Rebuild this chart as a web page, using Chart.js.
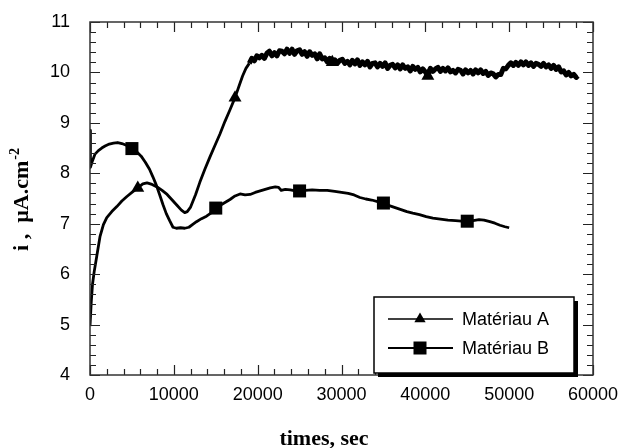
<!DOCTYPE html>
<html>
<head>
<meta charset="utf-8">
<script src="https://cdn.jsdelivr.net/npm/chart.js@4.4.1/dist/chart.umd.min.js"></script>
<style>
  html, body { margin: 0; padding: 0; background: #fff; }
  #wrap { width: 618px; height: 448px; }
</style>
</head>
<body>
<div id="wrap"><canvas id="chart" width="618" height="448"></canvas></div>
<script>
// current density vs time, two materials
const labelA = 'Matériau A';
const labelB = 'Matériau B';

const timeA = [
  0, 150, 300, 500, 800, 1200, 1600, 2000, 2600, 3200,
  3800, 4400, 5000, 5700, 6300, 6800, 7400, 8000, 8600, 9200,
  9800, 10400, 10900, 11300, 11600, 12000, 12600, 13100, 13700, 14300,
  14900, 15500, 16100, 16700, 17300, 17800, 18200, 18600, 19000,
  19300, 19600, 19900, 20200, 20500, 20800, 21100, 21400, 21700, 22000,
  22300, 22600, 22900, 23200, 23500, 23800, 24100, 24400, 24700, 25000,
  25300, 25600, 25900, 26200, 26500, 26800, 27100, 27400, 27700, 28000,
  28300, 28600, 28900, 29200, 29500, 29800, 30100, 30400, 30700, 31000,
  31300, 31600, 31900, 32200, 32500, 32800, 33100, 33400, 33700, 34000,
  34300, 34600, 34900, 35200, 35500, 35800, 36100, 36400, 36700, 37000,
  37300, 37600, 37900, 38200, 38500, 38800, 39100, 39400, 39700, 40000,
  40300, 40600, 40900, 41200, 41500, 41800, 42100, 42400, 42700, 43000,
  43300, 43600, 43900, 44200, 44500, 44800, 45100, 45400, 45700, 46000,
  46300, 46600, 46900, 47200, 47500, 47800, 48100, 48400, 48700, 49000,
  49300, 49600, 49900, 50200, 50500, 50800, 51100, 51400, 51700, 52000,
  52300, 52600, 52900, 53200, 53500, 53800, 54100, 54400, 54700, 55000,
  55300, 55600, 55900, 56200, 56500, 56800, 57100, 57400, 57700, 58000,
  58200
];
const currentA = [
  4.97, 5.45, 5.8, 6.05, 6.35, 6.75, 6.98, 7.12, 7.24, 7.34,
  7.45, 7.54, 7.62, 7.71, 7.79, 7.81, 7.78, 7.73, 7.66, 7.58,
  7.47, 7.36, 7.27, 7.22, 7.24, 7.33, 7.58, 7.82, 8.08, 8.32,
  8.55, 8.78, 9.03, 9.26, 9.5, 9.74, 9.93, 10.08, 10.18,
  10.28, 10.23, 10.33, 10.29, 10.34, 10.28, 10.38, 10.42, 10.33, 10.39,
  10.33, 10.43, 10.42, 10.37, 10.46, 10.38, 10.46, 10.36, 10.43, 10.45,
  10.36, 10.41, 10.32, 10.41, 10.34, 10.37, 10.27, 10.37, 10.27, 10.29,
  10.21, 10.28, 10.20, 10.25, 10.18, 10.24, 10.26, 10.18, 10.22, 10.15,
  10.24, 10.17, 10.25, 10.14, 10.21, 10.15, 10.22, 10.11, 10.18, 10.19,
  10.11, 10.18, 10.12, 10.19, 10.08, 10.14, 10.16, 10.09, 10.15, 10.07,
  10.15, 10.08, 10.11, 10.03, 10.12, 10.06, 10.10, 10.01, 10.07, 10.01,
  9.93, 10.08, 10.02, 10.07, 10.10, 10.02, 10.08, 10.03, 10.09, 10.01,
  10.04, 9.99, 10.06, 10.04, 9.97, 10.05, 9.99, 10.04, 9.97, 10.05,
  9.99, 10.05, 9.98, 10.02, 9.94, 9.99, 9.97, 9.91, 9.96, 9.96,
  10.08, 10.07, 10.14, 10.19, 10.14, 10.20, 10.14, 10.21, 10.15, 10.21,
  10.14, 10.19, 10.12, 10.18, 10.16, 10.12, 10.18, 10.11, 10.15, 10.08,
  10.14, 10.06, 10.11, 10.01, 10.03, 9.95, 10.00, 9.93, 9.96, 9.90,
  9.93
];

const timeB = [
  0, 50, 300, 600, 1000, 1400, 1800, 2300, 2800, 3300,
  3800, 4400, 5000, 5600, 6100, 6600, 7100, 7500, 7900, 8300,
  8700, 9100, 9500, 9900, 10300, 10800, 11300, 11800, 12300, 12700,
  13300, 13900, 14500, 15000, 15500, 16100, 16700, 17300, 17900, 18500,
  19100, 19700, 20300, 20900, 21500, 22100, 22500, 22800, 23300, 23900,
  24500, 25000, 25700, 26500, 27400, 28300, 29200, 30000, 30800, 31500,
  32200, 32900, 33600, 34300, 35000, 35700, 36400, 37100, 37800, 38500,
  39300, 40100, 40900, 41800, 42700, 43600, 44300, 45000, 45700, 46400,
  47000, 47700, 48300, 48900, 49500, 50000
];
const currentB = [
  8.85, 8.12, 8.25, 8.38, 8.45, 8.5, 8.54, 8.58, 8.6, 8.61,
  8.59, 8.55, 8.49, 8.42, 8.34, 8.22, 8.08, 7.93, 7.77, 7.58,
  7.38, 7.2, 7.06, 6.93, 6.91, 6.92, 6.91, 6.93, 6.99, 7.04,
  7.1, 7.15, 7.22, 7.31, 7.36, 7.42, 7.48, 7.55, 7.59, 7.57,
  7.58, 7.62, 7.65, 7.68, 7.71, 7.73, 7.72, 7.66, 7.68, 7.67,
  7.65, 7.65, 7.66, 7.67, 7.66, 7.66, 7.64, 7.62, 7.6, 7.57,
  7.52, 7.49, 7.47, 7.44, 7.41, 7.36, 7.32, 7.28, 7.24, 7.21,
  7.18, 7.14, 7.11, 7.09, 7.07, 7.06, 7.05, 7.05, 7.06, 7.08,
  7.07, 7.04, 7.01, 6.97, 6.94, 6.92
];

// times at which a symbol is drawn on each curve
const markersA = [5700, 17300, 28900, 40300];
const markersB = [5000, 15000, 25000, 35000, 45000];

const xTicks = [0, 10000, 20000, 30000, 40000, 50000, 60000];
const yTicks = [4, 5, 6, 7, 8, 9, 10, 11];
const xMinorStep = 2000;
const yMinorStep = 0.2;

const toPoints = (xs, ys) => xs.map((x, i) => ({ x: x, y: ys[i] }));

const SANS = '"Liberation Sans", Arial, sans-serif';
const SERIF = '"Liberation Serif", "Times New Roman", serif';

function drawSymbol(ctx, style, x, y) {
    ctx.beginPath();
    if (style === 'triangle') {
        const r = 6.5;
        ctx.moveTo(x, y - r);
        ctx.lineTo(x + r * 0.866, y + r * 0.5);
        ctx.lineTo(x - r * 0.866, y + r * 0.5);
        ctx.closePath();
    } else {
        ctx.rect(x - 6.5, y - 6.5, 13, 13);
    }
    ctx.fillStyle = '#000';
    ctx.fill();
}

const framePlugin = {
    id: 'frameAndTicks',
    afterDraw(chart) {
        const { ctx, chartArea: a, scales } = chart;
        const xs = scales.x, ys = scales.y;
        ctx.save();

        // inward tick marks on all four sides
        ctx.strokeStyle = '#222';
        ctx.lineWidth = 1.2;
        ctx.beginPath();
        for (let v = xs.min; v <= xs.max + 1; v += xMinorStep) {
            const px = Math.round(xs.getPixelForValue(v)) + 0.5;
            const len = xTicks.includes(v) ? 10 : 6;
            ctx.moveTo(px, a.bottom); ctx.lineTo(px, a.bottom - len);
            ctx.moveTo(px, a.top); ctx.lineTo(px, a.top + len);
        }
        for (let k = 0; k <= Math.round((ys.max - ys.min) / yMinorStep); k++) {
            const v = ys.min + k * yMinorStep;
            const py = Math.round(ys.getPixelForValue(v)) + 0.5;
            const len = k % 5 === 0 ? 10 : 6;
            ctx.moveTo(a.left, py); ctx.lineTo(a.left + len, py);
            ctx.moveTo(a.right, py); ctx.lineTo(a.right - len, py);
        }
        ctx.stroke();

        // frame
        ctx.lineWidth = 1.5;
        ctx.strokeStyle = '#333';
        ctx.strokeRect(a.left, a.top, a.right - a.left, a.bottom - a.top);

        // legend box with drop shadow
        const bx = a.right - 219, by = a.bottom - 78, bw = 200, bh = 76;
        ctx.fillStyle = '#000';
        ctx.fillRect(bx + 4, by + 4, bw, bh);
        ctx.fillStyle = '#fff';
        ctx.fillRect(bx, by, bw, bh);
        ctx.lineWidth = 1.5;
        ctx.strokeStyle = '#000';
        ctx.strokeRect(bx, by, bw, bh);

        const rows = [
            { label: chart.data.datasets[0].label, style: 'triangle', y: by + 22, w: 1.4 },
            { label: chart.data.datasets[1].label, style: 'rect', y: by + 51, w: 2.2 }
        ];
        ctx.font = '18px ' + SANS;
        ctx.textBaseline = 'middle';
        ctx.textAlign = 'left';
        rows.forEach(r => {
            ctx.beginPath();
            ctx.lineWidth = r.w;
            ctx.moveTo(bx + 14, r.y);
            ctx.lineTo(bx + 79, r.y);
            ctx.stroke();
            drawSymbol(ctx, r.style, bx + 46, r.y);
            ctx.fillStyle = '#000';
            ctx.fillText(r.label, bx + 88, r.y + 1);
        });

        // axis titles
        ctx.fillStyle = '#000';
        ctx.font = 'bold 22px ' + SERIF;
        ctx.textAlign = 'center';
        ctx.textBaseline = 'alphabetic';
        ctx.fillText('times, sec', 324, 445);

        ctx.translate(28, 200);
        ctx.rotate(-Math.PI / 2);
        const main = 'i ,  µA.cm';
        const sup = '-2';
        ctx.font = 'bold 22px ' + SERIF;
        const wMain = ctx.measureText(main).width;
        ctx.font = 'bold 14px ' + SERIF;
        const wSup = ctx.measureText(sup).width;
        const x0 = -(wMain + wSup) / 2;
        ctx.textAlign = 'left';
        ctx.font = 'bold 22px ' + SERIF;
        ctx.fillText(main, x0, 0);
        ctx.font = 'bold 14px ' + SERIF;
        ctx.fillText(sup, x0 + wMain + 1, -9);
        ctx.restore();
    }
};

new Chart(document.getElementById('chart').getContext('2d'), {
    type: 'line',
    data: {
        datasets: [
            {
                label: labelA,
                data: toPoints(timeA, currentA),
                borderColor: '#000',
                backgroundColor: '#000',
                borderWidth: 2.8,
                borderJoinStyle: 'round',
                // the plateau is a noisy record, drawn as a heavier trace
                segment: { borderWidth: c => (c.p0.parsed.x >= 19000 ? 5 : 2.8) },
                pointStyle: 'triangle',
                pointRadius: ctx => (ctx.raw && markersA.includes(ctx.raw.x) ? 7.5 : 0),
                pointBorderWidth: 0,
                pointBackgroundColor: '#000',
                tension: 0,
                fill: false
            },
            {
                label: labelB,
                data: toPoints(timeB, currentB),
                borderColor: '#000',
                backgroundColor: '#000',
                borderWidth: 2.8,
                borderJoinStyle: 'round',
                pointStyle: 'rect',
                pointRadius: ctx => (ctx.raw && markersB.includes(ctx.raw.x) ? 9.2 : 0),
                pointBorderWidth: 0,
                pointBackgroundColor: '#000',
                tension: 0,
                fill: false
            }
        ]
    },
    options: {
        responsive: false,
        animation: false,
        devicePixelRatio: 1,
        layout: { padding: { top: 22, right: 25, left: 0, bottom: 0 } },
        plugins: {
            legend: { display: false },
            tooltip: { enabled: false },
            title: { display: false }
        },
        scales: {
            x: {
                type: 'linear',
                min: 0,
                max: 60000,
                afterFit: s => {
                    s.height = 73;
                    s.paddingLeft = 0; s.paddingRight = 0;
                },
                afterBuildTicks: s => { s.ticks = xTicks.map(v => ({ value: v })); },
                grid: { display: false, drawTicks: false },
                border: { display: false },
                ticks: {
                    autoSkip: false,
                    maxRotation: 0,
                    padding: 9,
                    color: '#000',
                    font: { family: SANS, size: 18 },
                    callback: v => String(v)
                }
            },
            y: {
                type: 'linear',
                min: 4,
                max: 11,
                afterFit: s => {
                    s.width = 90;
                    s.paddingTop = 0; s.paddingBottom = 0;
                },
                afterBuildTicks: s => { s.ticks = yTicks.map(v => ({ value: v })); },
                grid: { display: false, drawTicks: false },
                border: { display: false },
                ticks: {
                    padding: 20,
                    color: '#000',
                    font: { family: SANS, size: 18 },
                    callback: v => String(v)
                }
            }
        }
    },
    plugins: [framePlugin]
});
</script>
</body>
</html>
